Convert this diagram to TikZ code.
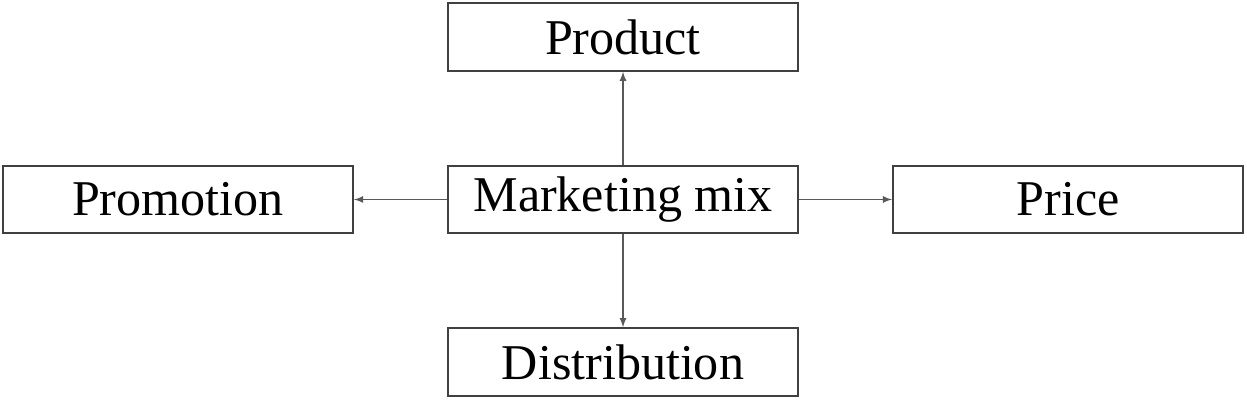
\documentclass[tikz,border=0pt]{standalone}
\usepackage{fontspec}
\setmainfont{Liberation Serif}
\usepackage{tikz}
\usetikzlibrary{arrows}
\usetikzlibrary{positioning}
\begin{document}
\begin{tikzpicture}
  \tikzstyle{box}=[rectangle, draw=black!75, line width=1.2pt, minimum width=7.0cm, minimum height=1.35cm, font=\fontsize{28.5}{33}\selectfont, node distance = 1.86cm]
  \tikzstyle{connect}=[-latex, draw=black!65, line width=0.8pt]
  \useasboundingbox (0,0) rectangle (24.94,8);
    \node[box] (mix) at (12.46,4.01) {Marketing mix};
    \node[box] (product) [above=of mix] {Product};
    \node[box] (distribution) [below=of mix] {Distribution};
    \node[box] (promotion) [left=of mix] {Promotion};
    \node[box] (price) [right=of mix] {Price};
    \path (mix) edge [connect] (product)
          (mix) edge [connect] (distribution)
          (mix) edge [connect] (promotion)
          (mix) edge [connect] (price);
\end{tikzpicture}
\end{document}
